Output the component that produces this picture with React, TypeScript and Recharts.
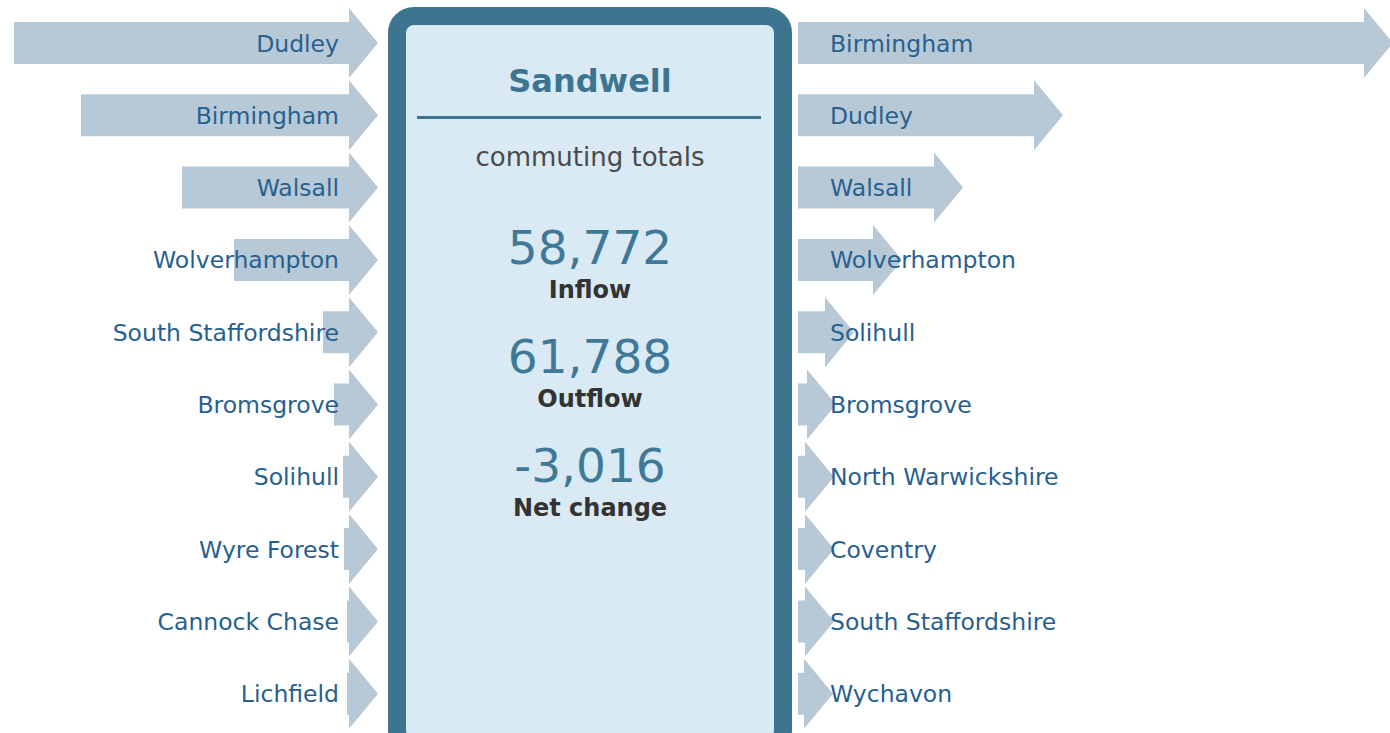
import { Bar, BarChart, LabelList, XAxis, YAxis } from 'recharts'

const AREA = 'Sandwell'
const TOTAL_INFLOW = 58772
const TOTAL_OUTFLOW = 61788

// top origins of people commuting into the area
const inflowPlaces = [
  'Dudley',
  'Birmingham',
  'Walsall',
  'Wolverhampton',
  'South Staffordshire',
  'Bromsgrove',
  'Solihull',
  'Wyre Forest',
  'Cannock Chase',
  'Lichfield',
]
const inflowValues = [16750, 13400, 8350, 5750, 1300, 750, 300, 250, 100, 100]

// top destinations of people commuting out
const outflowPlaces = [
  'Birmingham',
  'Dudley',
  'Walsall',
  'Wolverhampton',
  'Solihull',
  'Bromsgrove',
  'North Warwickshire',
  'Coventry',
  'South Staffordshire',
  'Wychavon',
]
const outflowValues = [28300, 11800, 6800, 3750, 1350, 450, 350, 350, 350, 300]

const COMMUTERS_PER_PX = 50
const ARROW_FILL = '#b7c9d6'
const LABEL_COLOR = '#27608f'
const BOX_COLOR = '#3d7591'
const FONT = '"DejaVu Sans", Verdana, sans-serif'

const inflowRows = inflowPlaces.map((name, i) => ({ name, value: inflowValues[i] }))
const outflowRows = outflowPlaces.map((name, i) => ({ name, value: outflowValues[i] }))

function Arrow(props: any) {
  const { x, y, width, height } = props
  const left = Math.min(x, x + width)
  const right = Math.max(x, x + width)
  const cy = y + height / 2
  const half = height / 2
  const headHalf = 35
  const head = 29
  const d = `M${left},${cy - half} L${right},${cy - half} L${right},${cy - headHalf} L${right + head},${cy} L${right},${cy + headHalf} L${right},${cy + half} L${left},${cy + half} Z`
  return <path d={d} fill={ARROW_FILL} />
}

function InLabel(props: any) {
  const { x, y, width, height, value } = props
  const right = Math.max(x, x + width)
  return (
    <text x={right - 10} y={y + height / 2 + 8.5} textAnchor="end" fill={LABEL_COLOR} fontSize={23.5} fontFamily={FONT}>
      {value}
    </text>
  )
}

function OutLabel(props: any) {
  const { x, y, width, height, value } = props
  const left = Math.min(x, x + width)
  return (
    <text x={left + 32} y={y + height / 2 + 8.5} textAnchor="start" fill={LABEL_COLOR} fontSize={23.5} fontFamily={FONT}>
      {value}
    </text>
  )
}

function TotalsPanel() {
  const net = TOTAL_INFLOW - TOTAL_OUTFLOW
  const fmt = (n: number) => n.toLocaleString('en-GB')
  const numberStyle = { fontSize: 47, fill: '#3f7997', fontFamily: FONT }
  const captionStyle = { fontSize: 24, fontWeight: 700, fill: '#333333', fontFamily: FONT }
  return (
    <svg width={420} height={733} style={{ position: 'absolute', left: 380, top: 0 }}>
      <rect x={17} y={16} width={386} height={731} rx={17} ry={17} fill="#daeaf5" stroke={BOX_COLOR} strokeWidth={18} />
      <text x={210} y={92} textAnchor="middle" fontSize={32} fontWeight={700} fill={BOX_COLOR} fontFamily={FONT}>
        {AREA}
      </text>
      <rect x={37} y={116} width={344} height={3} fill={BOX_COLOR} />
      <text x={210} y={166} textAnchor="middle" fontSize={26} fill="#4a4a4a" fontFamily={FONT}>
        commuting totals
      </text>
      <text x={210} y={264} textAnchor="middle" {...numberStyle}>{fmt(TOTAL_INFLOW)}</text>
      <text x={210} y={298} textAnchor="middle" {...captionStyle}>Inflow</text>
      <text x={210} y={373} textAnchor="middle" {...numberStyle}>{fmt(TOTAL_OUTFLOW)}</text>
      <text x={210} y={407} textAnchor="middle" {...captionStyle}>Outflow</text>
      <text x={210} y={482} textAnchor="middle" {...numberStyle}>{fmt(net)}</text>
      <text x={210} y={516} textAnchor="middle" {...captionStyle}>Net change</text>
    </svg>
  )
}

export default function App() {
  return (
    <div style={{ position: 'absolute', left: 0, top: 0, width: 1390, height: 733, overflow: 'hidden', background: '#fff' }}>
      <div style={{ position: 'absolute', left: 0, top: 0 }}>
        <BarChart width={390} height={733} data={inflowRows} layout="vertical" margin={{ top: 7, right: 41, bottom: 3, left: 0 }}>
          <XAxis type="number" hide reversed domain={[0, 349 * COMMUTERS_PER_PX]} />
          <YAxis type="category" dataKey="name" hide />
          <Bar dataKey="value" barSize={42} shape={Arrow} isAnimationActive={false}>
            <LabelList dataKey="name" content={InLabel} />
          </Bar>
        </BarChart>
      </div>
      <TotalsPanel />
      <div style={{ position: 'absolute', left: 798, top: 0 }}>
        <BarChart width={592} height={733} data={outflowRows} layout="vertical" margin={{ top: 7, right: 22, bottom: 3, left: 0 }}>
          <XAxis type="number" hide domain={[0, 570 * COMMUTERS_PER_PX]} />
          <YAxis type="category" dataKey="name" hide />
          <Bar dataKey="value" barSize={42} shape={Arrow} isAnimationActive={false}>
            <LabelList dataKey="name" content={OutLabel} />
          </Bar>
        </BarChart>
      </div>
    </div>
  )
}
